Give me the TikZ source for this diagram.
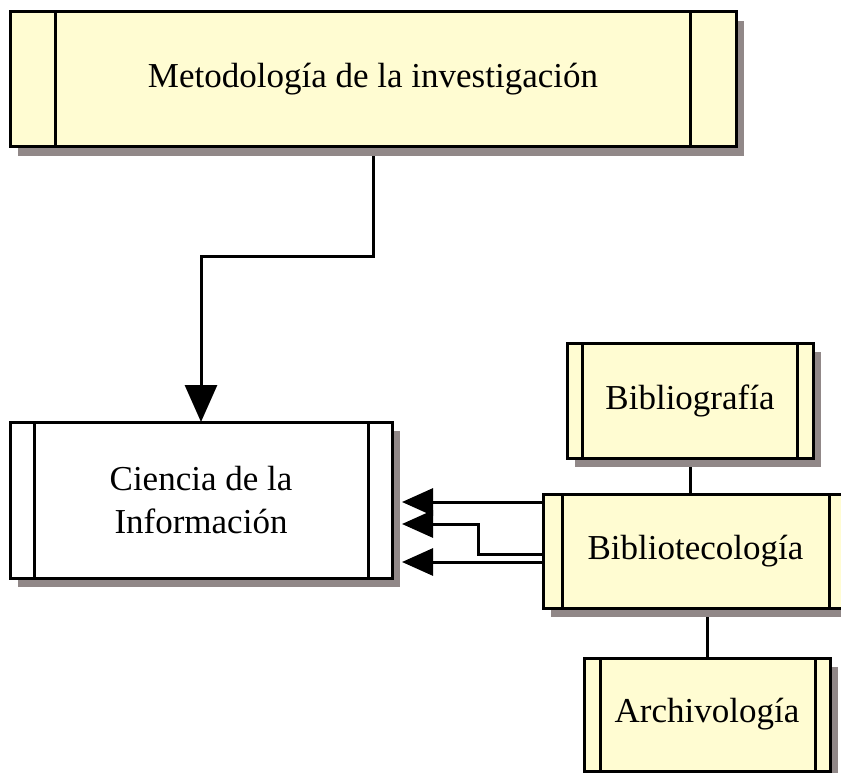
\documentclass[tikz,border=0pt]{standalone}
\usepackage{fontspec}
\setmainfont{Liberation Serif}
\usetikzlibrary{arrows.meta,shadows,backgrounds}

\definecolor{boxfill}{RGB}{255,252,210}
\definecolor{shadowgray}{RGB}{145,136,136}

\tikzset{
  boxline/.style={line width=3pt, line cap=rect},
  topic/.style={draw, boxline, fill=boxfill, inner sep=0pt, outer sep=0pt,
    align=center, font=\fontsize{35}{43}\selectfont,
    drop shadow={shadow xshift=8pt, shadow yshift=-9pt, fill=shadowgray, opacity=1}},
  link/.style={line width=3pt},
  tipdown/.style={-{Triangle[length=37pt,width=32pt]}},
  tipleft/.style={-{Triangle[length=31pt,width=27pt]}}
}

% vertical bars just inside the left and right borders of a box
\newcommand\sidebars[3]{%
  \draw[boxline] ([xshift=#2]#1.north west) -- ([xshift=#2]#1.south west);
  \draw[boxline] ([xshift=-#3]#1.north east) -- ([xshift=-#3]#1.south east);}

\begin{document}
\begin{tikzpicture}[x=1pt, y=-1pt]
  \useasboundingbox (0,0) rectangle (841,773);

  \node[topic, minimum width=726pt, minimum height=135pt] (met) at (373,79.5)
    {Metodología de la investigación};
  \sidebars{met}{45pt}{46pt}

  \node[topic, fill=white, minimum width=382pt, minimum height=156pt] (cie) at (201,500)
    {Ciencia de la\\Información};
  \sidebars{cie}{24pt}{24pt}

  \node[topic, minimum width=246pt, minimum height=115pt] (bibg) at (690,400.5)
    {Bibliografía};
  \sidebars{bibg}{15pt}{16pt}

  \node[topic, minimum width=305pt, minimum height=114pt] (bib) at (695.5,551)
    {Bibliotecología};
  \sidebars{bib}{19pt}{19pt}

  \node[topic, minimum width=246pt, minimum height=113pt] (arc) at (707,714.5)
    {Archivología};
  \sidebars{arc}{16pt}{15pt}

  \begin{scope}[on background layer]
    \draw[link, tipdown] (met.south) -- ++(0,109) -| (cie.north);
    \draw[link, tipleft] (bib.west |- 0,502) -- ([xshift=10pt]cie.east |- 0,502);
    \draw[link, tipleft] (bib.west |- 0,554) -- (478,554) |- ([xshift=10pt]cie.east |- 0,524);
    \draw[link, tipleft] (bib.west |- 0,562) -- ([xshift=10pt]cie.east |- 0,562);
    \draw[link] (bibg.south) -- (bibg.south |- bib.north);
    \draw[link] (arc.north) -- (arc.north |- bib.south);
  \end{scope}
\end{tikzpicture}
\end{document}
